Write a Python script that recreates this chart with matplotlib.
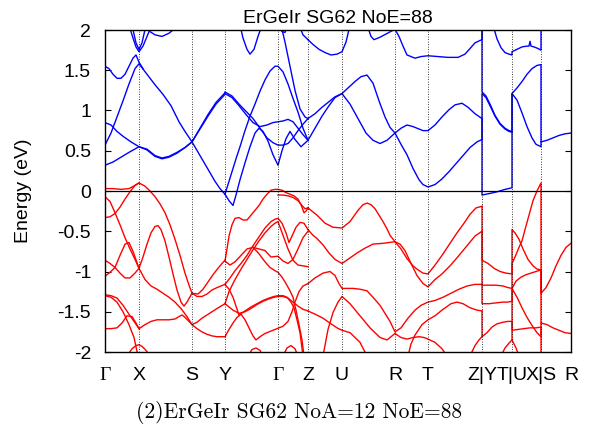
import matplotlib
matplotlib.use("Agg")
import matplotlib.pyplot as plt

# high-symmetry points along the path (path length in arbitrary units)
kpts = [0, 34, 87, 120, 173, 203, 237, 290, 323, 377, 407, 436, 466]
klabels = ["Γ", "X", "S", "Y", "Γ", "Z", "U", "R", "T", "Z|Y", "T|U", "X|S", "R"]

yticks = [-2, -1.5, -1, -0.5, 0, 0.5, 1, 1.5, 2]
ylabels = ["-2", "-1.5", "-1", "-0.5", "0", "0.5", "1", "1.5", "2"]

# ---- conduction bands (blue) as (k, E) points ----
cond_G_X_S_Y = [
    [(0, 0.32), (8, 0.36), (16, 0.42), (24, 0.48), (34, 0.55), (42, 0.52), (50, 0.44), (57, 0.41),
     (64, 0.43), (72, 0.48), (80, 0.54), (87, 0.61), (95, 0.78), (103, 0.95), (111, 1.10), (120, 1.22)],
    [(0, 0.85), (6, 0.82), (12, 0.74), (18, 0.68), (26, 0.61), (34, 0.55), (42, 0.51), (50, 0.43),
     (57, 0.40), (64, 0.42), (72, 0.47), (80, 0.54), (87, 0.61), (95, 0.77), (103, 0.93), (111, 1.08), (120, 1.20)],
    [(0, 0.57), (6, 0.72), (12, 0.92), (18, 1.12), (24, 1.33), (30, 1.52), (34, 1.58), (42, 1.45),
     (50, 1.32), (58, 1.20), (66, 1.06), (74, 0.86), (80, 0.74), (87, 0.61), (95, 0.44), (103, 0.27),
     (110, 0.12), (115, 0.03), (120, -0.04)],
    [(0, 1.55), (4, 1.52), (8, 1.45), (12, 1.40), (16, 1.40), (20, 1.45), (24, 1.55), (28, 1.65),
     (31, 1.69), (34, 1.60), (38, 1.52)],
    [(24, 2.06), (28, 1.90), (31, 1.79), (34, 1.73), (38, 1.80), (43, 1.95), (47, 2.06)],
    [(27, 2.06), (31, 1.84), (34, 1.76), (37, 1.84), (41, 2.06)],
    [(40, 2.06), (45, 1.98), (50, 1.94), (57, 1.92), (64, 1.96), (70, 2.02), (74, 2.06)],
]

cond_Y_G_Z = [
    [(120, -0.04), (123, 0.08), (127, 0.24), (131, 0.40), (135, 0.55), (140, 0.75), (145, 0.93),
     (150, 1.08), (155, 1.24), (160, 1.38), (165, 1.49), (170, 1.55), (173, 1.55), (178, 1.48),
     (183, 1.33), (188, 1.15), (193, 0.98), (198, 0.78), (203, 0.63)],
    [(120, -0.04), (124, -0.12), (128, -0.18), (131, -0.05), (135, 0.14), (140, 0.35), (145, 0.55),
     (150, 0.72), (154, 0.78), (158, 0.74), (163, 0.62), (168, 0.45), (173, 0.32), (177, 0.50),
     (181, 0.65), (185, 0.74), (190, 0.64), (196, 0.55), (203, 0.63)],
    [(120, 1.23), (127, 1.18), (134, 1.08), (141, 0.99), (148, 0.90), (155, 0.78), (162, 0.66),
     (168, 0.60), (173, 0.57), (178, 0.57), (183, 0.59), (188, 0.66), (193, 0.75), (198, 0.83), (203, 0.90)],
    [(120, 1.21), (127, 1.16), (134, 1.06), (141, 0.95), (148, 0.85), (155, 0.80), (162, 0.82),
     (168, 0.85), (173, 0.86), (178, 0.87), (183, 0.89), (188, 0.86), (193, 0.78), (198, 0.70), (203, 0.63)],
    [(176, 2.06), (180, 1.85), (185, 1.55), (190, 1.25), (195, 1.02), (200, 0.92), (203, 0.90)],
    [(135, 2.06), (138, 1.90), (142, 1.76), (145, 1.70), (149, 1.76), (153, 1.92), (157, 2.06)],
    [(174, 2.06), (177, 1.98), (180, 1.97), (183, 2.06)],
    [(194, 2.06), (198, 1.94), (203, 1.88)],
]

cond_Z_U_R_T_Z = [
    [(203, 1.88), (208, 1.82), (214, 1.76), (220, 1.72), (226, 1.69), (232, 1.70), (237, 1.73),
     (241, 1.85), (245, 2.06)],
    [(203, 0.90), (210, 0.96), (217, 1.04), (224, 1.11), (230, 1.17), (237, 1.21), (243, 1.28),
     (250, 1.36), (256, 1.42), (262, 1.44), (268, 1.34), (274, 1.12), (280, 0.92), (285, 0.79),
     (290, 0.72), (296, 0.78), (302, 0.82), (308, 0.80), (314, 0.77), (318, 0.75), (323, 0.75),
     (330, 0.82), (337, 0.92), (344, 1.01), (350, 1.07), (357, 1.09), (363, 1.04), (370, 0.96), (377, 0.90)],
    [(203, 0.63), (210, 0.78), (217, 0.93), (224, 1.06), (230, 1.16), (237, 1.21), (245, 1.08),
     (253, 0.90), (261, 0.72), (268, 0.63), (275, 0.59), (282, 0.63), (290, 0.72), (296, 0.58),
     (302, 0.45), (308, 0.28), (314, 0.14), (318, 0.08), (323, 0.05), (330, 0.08), (337, 0.15),
     (344, 0.24), (351, 0.34), (358, 0.44), (365, 0.54), (372, 0.61), (377, 0.64)],
    [(263, 2.03), (266, 1.92), (269, 1.88), (275, 1.91), (281, 1.95), (287, 1.99), (290, 2.01),
     (294, 1.92), (298, 1.80), (302, 1.69), (310, 1.65), (316, 1.67), (323, 1.68), (333, 1.67),
     (343, 1.66), (353, 1.66), (360, 1.70), (365, 1.77), (370, 1.84), (375, 1.87), (377, 1.88), (377, 2.06)],
]

cond_Y_T_U_X_S_R = [
    [(377, 2.06), (377, 1.23), (381, 1.18), (385, 1.08), (390, 0.94), (395, 0.84), (400, 0.78),
     (404, 0.75), (407, 0.74), (407, 1.21), (412, 1.13), (417, 0.97), (422, 0.80), (427, 0.66),
     (431, 0.58), (436, 0.55), (436, 0.61)],
    [(377, 0.64), (377, 1.21), (381, 1.16), (385, 1.06), (390, 0.93), (395, 0.83), (400, 0.77),
     (404, 0.74), (407, 0.73)],
    [(377, 0.90), (377, -0.05), (385, -0.03), (392, -0.01), (400, 0.02), (407, 0.04), (407, 1.21),
     (412, 1.28), (417, 1.36), (422, 1.45), (427, 1.52), (432, 1.56), (436, 1.57), (436, 0.61),
     (442, 0.63), (448, 0.66), (454, 0.69), (460, 0.71), (466, 0.72)],
    [(388, 2.06), (392, 1.89), (396, 1.78), (400, 1.72), (404, 1.70), (407, 1.69), (407, 1.73),
     (412, 1.76), (417, 1.79), (422, 1.80), (424, 1.80), (425, 1.86), (426, 1.80), (429, 1.79),
     (433, 1.77), (436, 1.75), (436, 2.06)],
]

# ---- valence bands (red) ----
val_G_X_S_Y = [
    [(0, 0.03), (8, 0.03), (16, 0.02), (24, 0.03), (30, 0.07), (34, 0.10), (40, 0.06), (45, 0.0),
     (50, -0.07), (55, -0.16), (60, -0.27), (65, -0.42), (70, -0.60), (75, -0.80), (80, -1.02),
     (84, -1.17), (87, -1.27), (93, -1.28), (98, -1.22), (103, -1.13), (108, -1.04), (113, -0.96),
     (117, -0.90), (120, -0.86)],
    [(0, -0.33), (5, -0.32), (10, -0.28), (15, -0.20), (20, -0.10), (25, -0.01), (30, 0.07), (34, 0.10)],
    [(0, -0.07), (5, -0.13), (10, -0.27), (15, -0.42), (20, -0.58), (25, -0.72), (30, -0.85),
     (34, -0.96), (40, -1.10), (46, -1.18), (52, -1.22), (58, -1.27), (64, -1.32), (70, -1.38),
     (76, -1.46), (82, -1.56), (87, -1.66), (92, -1.63), (97, -1.58), (102, -1.54), (107, -1.50),
     (112, -1.46), (116, -1.43), (120, -1.40)],
    [(0, -0.86), (5, -0.90), (10, -0.95), (15, -0.80), (20, -0.66), (24, -0.64), (28, -0.75),
     (34, -0.96), (38, -0.82), (42, -0.66), (46, -0.52), (50, -0.44), (53, -0.43), (56, -0.48),
     (60, -0.62), (64, -0.82), (68, -1.03), (72, -1.23), (76, -1.38), (79, -1.43), (82, -1.38),
     (87, -1.27), (92, -1.31), (97, -1.31), (102, -1.28), (107, -1.23), (112, -1.20), (116, -1.18), (120, -1.16)],
    [(0, -1.06), (5, -1.01), (10, -0.95), (15, -1.02), (20, -1.08), (25, -1.08), (30, -1.02), (34, -0.96)],
    [(0, -1.29), (6, -1.30), (12, -1.33), (18, -1.42), (24, -1.53), (29, -1.62), (34, -1.71),
     (40, -1.66), (46, -1.62), (52, -1.60), (58, -1.60), (64, -1.60), (70, -1.59), (74, -1.56),
     (77, -1.54), (80, -1.57), (84, -1.62), (87, -1.66), (92, -1.71), (97, -1.75), (102, -1.78),
     (107, -1.80), (112, -1.81), (120, -1.81)],
    [(0, -1.30), (6, -1.32), (12, -1.38), (18, -1.50), (24, -1.66), (29, -1.82), (33, -2.05)],
    [(0, -1.71), (6, -1.71), (12, -1.70), (17, -1.64), (22, -1.55), (27, -1.56), (31, -1.64), (34, -1.71)],
    [(22, -2.05), (27, -1.96), (31, -1.92), (34, -1.91), (37, -1.93), (41, -1.98), (45, -2.05)],
]

val_Y_G_Z = [
    [(120, -0.87), (122, -0.72), (124, -0.56), (127, -0.42), (130, -0.34), (134, -0.33), (138, -0.36),
     (142, -0.36), (146, -0.30), (150, -0.24), (154, -0.18), (158, -0.10), (162, -0.04), (166, 0.01),
     (170, 0.02), (173, 0.02), (177, 0.01), (181, -0.02), (185, -0.04), (189, -0.06), (193, -0.10),
     (196, -0.17), (199, -0.27), (201, -0.25), (203, -0.21)],
    [(173, -0.05), (178, -0.05), (183, -0.06), (188, -0.08), (193, -0.12), (197, -0.18), (200, -0.22), (203, -0.21)],
    [(120, -1.16), (125, -1.08), (130, -0.99), (136, -0.90), (142, -0.80), (148, -0.68), (154, -0.57),
     (160, -0.46), (166, -0.38), (170, -0.35), (173, -0.34), (177, -0.40), (181, -0.52), (184, -0.64),
     (187, -0.56), (191, -0.45), (195, -0.39), (199, -0.40), (203, -0.48)],
    [(120, -1.40), (124, -1.25), (130, -1.10), (136, -0.97), (142, -0.85), (148, -0.73), (154, -0.62),
     (160, -0.52), (166, -0.44), (170, -0.40), (173, -0.38), (178, -0.55), (183, -0.72), (188, -0.86),
     (193, -0.92), (198, -0.93), (203, -0.94)],
    [(120, -0.87), (125, -0.92), (130, -0.88), (136, -0.80), (142, -0.72), (148, -0.70), (154, -0.72),
     (160, -0.74), (166, -0.82), (173, -0.81), (178, -0.87), (183, -0.90), (188, -0.85), (193, -0.72),
     (198, -0.58), (203, -0.50)],
    [(120, -1.40), (124, -1.44), (128, -1.48), (134, -1.52), (140, -1.50), (146, -1.46), (152, -1.41),
     (158, -1.37), (164, -1.34), (169, -1.32), (173, -1.31), (178, -1.31), (183, -1.33), (188, -1.38),
     (193, -1.43), (198, -1.47), (203, -1.49)],
    [(120, -1.16), (124, -1.22), (128, -1.32), (131, -1.43), (134, -1.54), (140, -1.49), (146, -1.44),
     (152, -1.40), (158, -1.36), (164, -1.33), (169, -1.31), (173, -1.30), (178, -1.30), (182, -1.32),
     (186, -1.38), (189, -1.45), (192, -1.60), (195, -1.76), (198, -2.05)],
    [(120, -1.81), (124, -1.72), (128, -1.64), (132, -1.57), (136, -1.53), (140, -1.60), (144, -1.70),
     (148, -1.80), (151, -1.85), (155, -1.81), (160, -1.77), (166, -1.74), (172, -1.71), (178, -1.68),
     (183, -1.62), (187, -1.50), (190, -1.38), (194, -1.25), (198, -1.18), (203, -1.15)],
    [(148, -0.70), (154, -0.78), (160, -0.88), (165, -0.95), (170, -0.99), (173, -1.01), (177, -1.07),
     (181, -1.15), (185, -1.24), (188, -1.32), (191, -1.48), (194, -1.66), (197, -1.85), (199, -2.05)],
    [(143, -2.05), (147, -1.97), (151, -1.95), (155, -1.98), (158, -2.05)],
    [(178, -2.05), (182, -1.95), (186, -1.92), (190, -1.96), (193, -2.05)],
]

val_Z_U_R_T_Z = [
    [(203, -0.21), (208, -0.26), (212, -0.30), (216, -0.35), (220, -0.40), (228, -0.45), (237, -0.46),
     (245, -0.38), (253, -0.24), (258, -0.17), (262, -0.15), (266, -0.17), (270, -0.22), (274, -0.30),
     (278, -0.38), (282, -0.47), (285, -0.55), (290, -0.63), (296, -0.72), (302, -0.84), (308, -0.93),
     (313, -0.98), (318, -1.02), (323, -1.03), (330, -0.92), (337, -0.80), (345, -0.65), (352, -0.52),
     (359, -0.40), (365, -0.29), (371, -0.21), (377, -0.19)],
    [(203, -0.48), (208, -0.55), (212, -0.59), (218, -0.67), (224, -0.77), (230, -0.85), (237, -0.90),
     (244, -0.84), (252, -0.77), (260, -0.71), (268, -0.66), (278, -0.65), (284, -0.64), (290, -0.63),
     (295, -0.66), (300, -0.74), (306, -0.90), (312, -1.05), (318, -1.15), (323, -1.19), (330, -1.10),
     (337, -1.03), (345, -0.93), (352, -0.83), (358, -0.74), (364, -0.65), (370, -0.56), (377, -0.50)],
    [(203, -1.15), (210, -1.08), (218, -1.02), (225, -1.00), (230, -1.05), (234, -1.15), (237, -1.21),
     (243, -1.21), (248, -1.21), (255, -1.22), (262, -1.24), (268, -1.32), (275, -1.42), (280, -1.52),
     (285, -1.62), (290, -1.75), (296, -1.70), (303, -1.58), (310, -1.48), (316, -1.42), (323, -1.38),
     (330, -1.36), (338, -1.32), (346, -1.27), (354, -1.22), (362, -1.18), (370, -1.16), (377, -1.16)],
    [(203, -1.49), (210, -1.53), (218, -1.58), (226, -1.65), (232, -1.70), (237, -1.73), (245, -1.76),
     (255, -1.88), (262, -2.05)],
    [(218, -2.05), (223, -1.72), (228, -1.51), (233, -1.38), (237, -1.31), (245, -1.40), (255, -1.55),
     (265, -1.70), (275, -1.82), (282, -1.85), (290, -1.77), (296, -1.82), (302, -1.84), (308, -1.82),
     (314, -1.81), (319, -1.82), (323, -1.84), (330, -1.88), (337, -1.96), (342, -2.05)],
    [(303, -2.05), (306, -1.90), (310, -1.79), (317, -1.66), (323, -1.60), (330, -1.55), (338, -1.47),
     (346, -1.40), (352, -1.38), (358, -1.40), (365, -1.45), (372, -1.48), (377, -1.49)],
    [(365, -2.05), (370, -1.92), (374, -1.85), (377, -1.81)],
]

val_Y_T_U_X_S_R = [
    [(377, -0.19), (377, -0.86), (383, -0.90), (389, -0.96), (395, -1.00), (401, -1.02), (407, -1.03),
     (407, -0.48), (410, -0.52), (414, -0.60), (418, -0.72), (423, -0.85), (428, -0.93), (432, -0.97),
     (436, -0.98), (436, -1.27)],
    [(377, -0.50), (377, -1.17), (384, -1.17), (391, -1.17), (398, -1.18), (403, -1.20), (407, -1.21),
     (407, -0.90), (410, -0.82), (414, -0.70), (417, -0.62), (420, -0.48), (424, -0.30), (428, -0.12),
     (432, 0.0), (436, 0.10), (436, -1.27), (441, -1.20), (446, -1.08), (451, -0.93), (456, -0.80),
     (461, -0.70), (466, -0.65)],
    [(377, -1.16), (377, -1.40), (384, -1.40), (391, -1.39), (398, -1.38), (403, -1.38), (407, -1.37),
     (407, -1.21), (411, -1.12), (416, -1.07), (421, -1.04), (426, -1.02), (431, -1.00), (436, -0.98),
     (436, -1.64), (442, -1.66), (448, -1.70), (454, -1.73), (460, -1.76), (466, -1.77)],
    [(377, -1.49), (377, -1.81), (382, -1.76), (387, -1.69), (392, -1.65), (398, -1.63), (403, -1.62),
     (407, -1.62), (407, -1.73), (413, -1.72), (419, -1.71), (425, -1.70), (431, -1.70), (436, -1.69),
     (436, -2.05)],
    [(396, -2.05), (400, -1.95), (404, -1.89), (407, -1.85), (407, -1.21), (412, -1.32), (417, -1.45),
     (422, -1.57), (427, -1.67), (432, -1.76), (436, -1.81), (436, -1.64)],
    [(407, -1.85), (411, -1.95), (414, -2.05)],
]

conduction = cond_G_X_S_Y + cond_Y_G_Z + cond_Z_U_R_T_Z + cond_Y_T_U_X_S_R
valence = val_G_X_S_Y + val_Y_G_Z + val_Z_U_R_T_Z + val_Y_T_U_X_S_R

plt.rcParams['font.family'] = ['Liberation Sans', 'DejaVu Sans']

fig = plt.figure(figsize=(5.92, 4.36), dpi=100)
ax = fig.add_axes([105 / 592, 1 - 352 / 436, 466 / 592, 322 / 436])

for band in valence:
    k, e = zip(*band)
    ax.plot(k, e, color='#ff0000', lw=1.0, solid_joinstyle='round')
for band in conduction:
    k, e = zip(*band)
    ax.plot(k, e, color='#0000ff', lw=1.0, solid_joinstyle='round')

# dotted lines at the high-symmetry points and the Fermi level
for kp in kpts[1:-1]:
    ax.axvline(kp, color='black', ls=(0, (1, 2)), lw=0.6)
ax.axhline(0, color='black', lw=0.9)

ax.set_xlim(kpts[0], kpts[-1])
ax.set_ylim(-2, 2)
ax.set_xticks(kpts)
ax.set_xticklabels(klabels, fontsize=14)
for lab in ax.get_xticklabels():
    if lab.get_text() == "Γ":
        lab.set_fontfamily('Liberation Serif')
ax.set_yticks(yticks)
ax.set_yticklabels(ylabels, fontsize=14)
ax.tick_params(axis='x', length=0, pad=11)
ax.tick_params(axis='y', direction='in', length=4, width=0.8, pad=10, right=True)
for sp in ax.spines.values():
    sp.set_linewidth(1.0)

ax.set_ylabel("Energy (eV)", fontsize=14, labelpad=18)
ax.set_title("ErGeIr SG62 NoE=88", fontsize=14, pad=5)

fig.text(0.505, 1 - 412 / 436, "(2)ErGeIr SG62 NoA=12 NoE=88", ha='center', va='center',
         fontsize=15.5, family=['cmr10', 'DejaVu Serif'])

fig.savefig("out.png", dpi=100)
